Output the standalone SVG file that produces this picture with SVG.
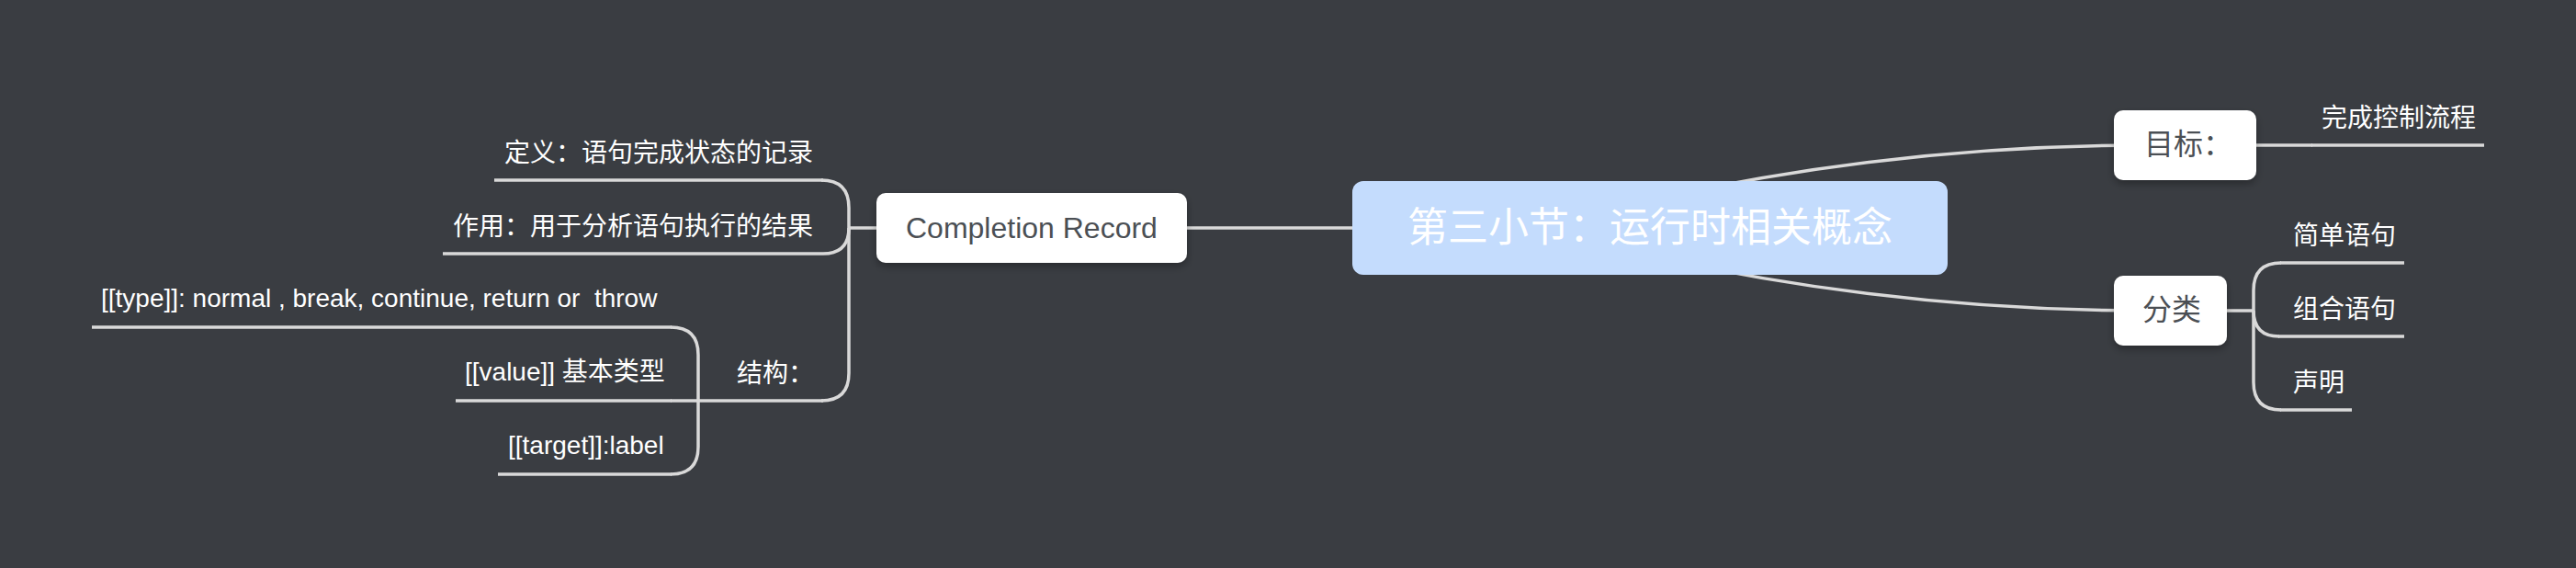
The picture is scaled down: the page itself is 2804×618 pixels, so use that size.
<svg xmlns="http://www.w3.org/2000/svg" width="2804" height="618" viewBox="0 0 2804 618">
<defs>
<filter id="sh" x="-20%" y="-30%" width="140%" height="170%">
<feDropShadow dx="0" dy="4" stdDeviation="4" flood-color="#000" flood-opacity="0.3"/>
</filter>
<style>
.c{fill:none;stroke:#d9d9d9;stroke-width:3.5;stroke-linecap:butt}
.t{font-family:"Liberation Sans","Noto Sans CJK SC",sans-serif;font-size:28px;fill:#ffffff;white-space:pre}
.bt{font-family:"Liberation Sans","Noto Sans CJK SC",sans-serif;font-size:32px;fill:#4b4f54}
.box{fill:#ffffff;filter:url(#sh)}
</style>
</defs>
<rect width="2804" height="618" fill="#3a3d42"/>
<g id="connectors">
<path class="c" d="M1292 248 L1472 248"/>
<path class="c" d="M1800 216.6 Q2066 158 2333 158"/>
<path class="c" d="M1800 279.4 Q2066 338 2333 338"/>
<path class="c" d="M954 248 L924 248"/>
<path class="c" d="M924 248 L924 226 Q924 196 894 196"/>
<path class="c" d="M924 248 Q924 276 896 276"/>
<path class="c" d="M924 248 L924 406 Q924 436 894 436"/>
<path class="c" d="M790 436 L730 436"/>
<path class="c" d="M760 436 L760 386 Q760 356 730 356"/>
<path class="c" d="M760 436 L760 486 Q760 516 730 516"/>
<path class="c" d="M2456 158 L2517 158"/>
<path class="c" d="M2424 338 L2453 338"/>
<path class="c" d="M2453 338 L2453 316 Q2453 286 2483 286"/>
<path class="c" d="M2453 338 Q2453 366 2481 366"/>
<path class="c" d="M2453 338 L2453 416 Q2453 446 2483 446"/>
</g>
<g id="root">
<rect x="1472" y="197" width="648" height="102" rx="12" fill="#c4dcfd"/>
<text x="1796" y="263" text-anchor="middle" font-family="Liberation Sans, Noto Sans CJK SC, sans-serif" font-size="44" fill="#ffffff">第三小节：运行时相关概念</text>
</g>
<g id="completion-record">
<rect class="box" x="954" y="210" width="338" height="76" rx="10"/>
<text class="bt" x="986" y="259">Completion Record</text>
</g>
<g id="def">
<path class="c" d="M538 196 L896 196"/>
<text class="t" x="549" y="176">定义：语句完成状态的记录</text>
</g>
<g id="use">
<path class="c" d="M482 276 L896 276"/>
<text class="t" x="493" y="256">作用：用于分析语句执行的结果</text>
</g>
<g id="structure">
<path class="c" d="M790 436 L896 436"/>
<text class="t" x="802" y="416">结构：</text>
</g>
<g id="type">
<path class="c" d="M100 356 L731 356"/>
<text class="t" x="110" y="334">[[type]]: normal , break, continue, return or  throw</text>
</g>
<g id="value">
<path class="c" d="M496 436 L731 436"/>
<text class="t" x="506" y="414">[[value]] 基本类型</text>
</g>
<g id="target">
<path class="c" d="M542 516 L731 516"/>
<text class="t" x="553" y="494">[[target]]:label</text>
</g>
<g id="goal">
<rect class="box" x="2301" y="120" width="155" height="76" rx="10"/>
<text class="bt" x="2334" y="168">目标：</text>
</g>
<g id="goal-detail">
<path class="c" d="M2516 158 L2704 158"/>
<text class="t" x="2527" y="138">完成控制流程</text>
</g>
<g id="category">
<rect class="box" x="2301" y="300" width="123" height="76" rx="10"/>
<text class="bt" x="2332" y="348">分类</text>
</g>
<g id="simple">
<path class="c" d="M2482 286 L2617 286"/>
<text class="t" x="2496" y="266">简单语句</text>
</g>
<g id="compound">
<path class="c" d="M2480 366 L2617 366"/>
<text class="t" x="2496" y="346">组合语句</text>
</g>
<g id="declaration">
<path class="c" d="M2482 446 L2560 446"/>
<text class="t" x="2496" y="426">声明</text>
</g>
</svg>
